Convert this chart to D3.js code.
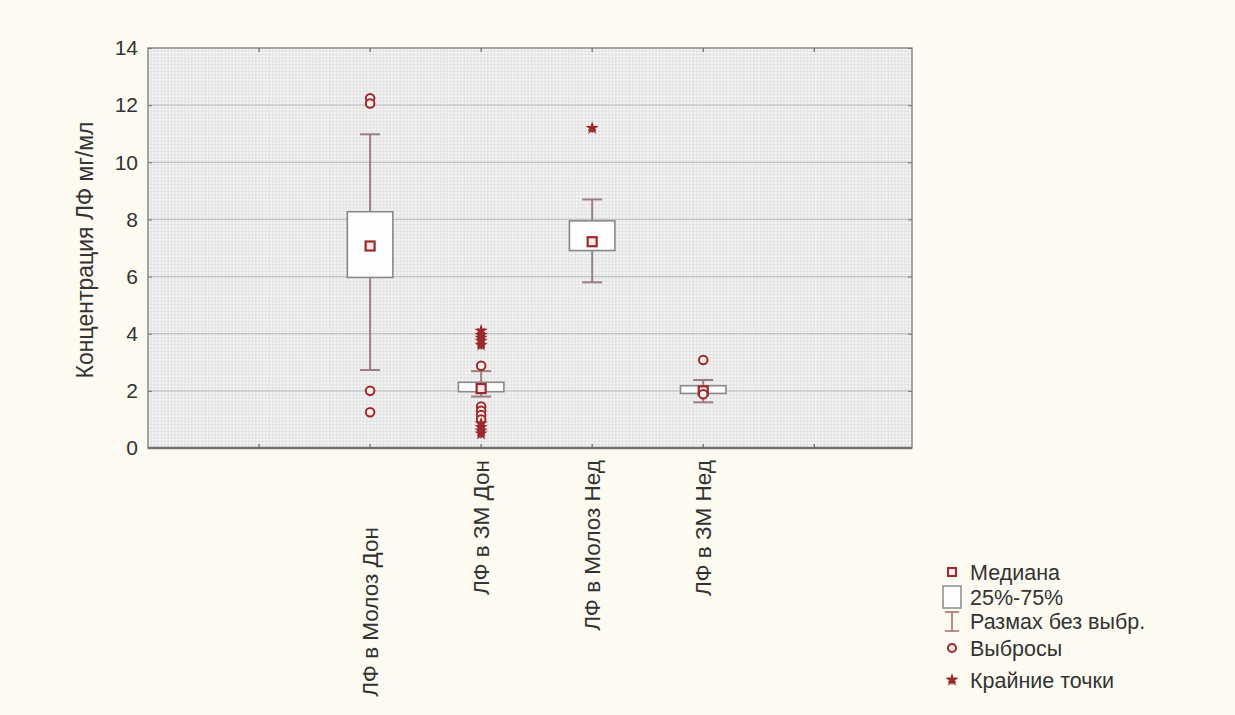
<!DOCTYPE html>
<html>
<head>
<meta charset="utf-8">
<script src="https://cdn.jsdelivr.net/npm/d3@7"></script>
<style>
  body { margin: 0; background: #fdfbf1; }
  text { font-family: "Liberation Sans", Arial, sans-serif; fill: #333; }
</style>
</head>
<body>
  <script>
    // data
    const categories = ["ЛФ в Молоз Дон", "ЛФ в ЗМ Дон", "ЛФ в Молоз Нед", "ЛФ в ЗМ Нед"];
    const q1       = [5.97, 1.97, 6.91, 1.91];
    const q3       = [8.27, 2.30, 7.95, 2.18];
    const medians  = [7.07, 2.08, 7.22, 2.00];
    const whiskLow = [2.73, 1.80, 5.80, 1.60];
    const whiskHigh= [10.98, 2.69, 8.70, 2.38];
    const outliers = [
      [12.24, 12.06, 2.0, 1.25],
      [2.88, 1.45, 1.3, 1.15, 1.0],
      [],
      [3.08, 1.88]
    ];
    const extremes = [
      [],
      [4.1, 3.95, 3.85, 3.75, 3.6, 0.85, 0.72, 0.6, 0.5],
      [11.19],
      []
    ];
    const yTicks = [0, 2, 4, 6, 8, 10, 12, 14];
    const legendLabels = ["Медиана", "25%-75%", "Размах без выбр.", "Выбросы", "Крайние точки"];

    const W = 1235, H = 715;
    const pL = 148, pR = 912, pT = 48, pB = 448;
    const red = "#9b2a2c";

    const svg = d3.select("body").append("svg")
      .attr("width", W).attr("height", H);

    const x = d3.scaleLinear().domain([-2, 4.88]).range([pL, pR]);
    const y = d3.scaleLinear().domain([0, 14]).range([pB, pT]);

    // plot background with fine mesh
    svg.append("rect")
      .attr("x", pL).attr("y", pT)
      .attr("width", pR - pL).attr("height", pB - pT)
      .attr("fill", "#f3f3f3");

    const mesh = svg.append("g").attr("stroke", "#dadada").attr("stroke-width", 0.6);
    mesh.selectAll(".hy").data(d3.range(0, 14, 14 / 120)).enter().append("line")
      .attr("x1", pL).attr("x2", pR)
      .attr("y1", d => y(d)).attr("y2", d => y(d));
    mesh.selectAll(".vx").data(d3.range(-2, 4.88, 1 / 33)).enter().append("line")
      .attr("y1", pT).attr("y2", pB)
      .attr("x1", d => x(d)).attr("x2", d => x(d));

    // major grid
    svg.append("g").selectAll("line").data(yTicks.slice(1, -1)).enter().append("line")
      .attr("x1", pL).attr("x2", pR)
      .attr("y1", d => y(d)).attr("y2", d => y(d))
      .attr("stroke", "#c4c4c4").attr("stroke-width", 1.2);

    // frame
    svg.append("rect")
      .attr("x", pL).attr("y", pT)
      .attr("width", pR - pL).attr("height", pB - pT)
      .attr("fill", "none").attr("stroke", "#8c8c8c").attr("stroke-width", 1.5);
    svg.append("line")
      .attr("x1", pL).attr("x2", pR).attr("y1", pB).attr("y2", pB)
      .attr("stroke", "#707070").attr("stroke-width", 2.5);

    // y axis
    const yAxis = svg.append("g")
      .attr("transform", `translate(${pL},0)`)
      .call(d3.axisLeft(y).tickValues(yTicks).tickSize(-4).tickPadding(10));
    yAxis.select(".domain").remove();
    yAxis.selectAll(".tick line").attr("stroke", "#777");
    yAxis.selectAll("text").attr("font-size", 21).attr("fill", "#333");

    const yRight = svg.append("g")
      .attr("transform", `translate(${pR},0)`)
      .call(d3.axisRight(y).tickValues(yTicks).tickSize(-4).tickFormat(""));
    yRight.select(".domain").remove();
    yRight.selectAll(".tick line").attr("stroke", "#777");

    // x ticks (top and bottom), inside
    const xTicks = d3.range(-1, 5);
    ["bottom", "top"].forEach(side => {
      const y0 = side === "bottom" ? pB : pT;
      const dir = side === "bottom" ? -4 : 4;
      svg.append("g").selectAll("line").data(xTicks).enter().append("line")
        .attr("x1", d => x(d)).attr("x2", d => x(d))
        .attr("y1", y0).attr("y2", y0 + dir)
        .attr("stroke", "#666").attr("stroke-width", 1.2);
    });

    // y title
    svg.append("text")
      .attr("transform", `translate(85,${(pT + pB) / 2 + 2}) rotate(-90)`)
      .attr("text-anchor", "middle")
      .attr("dy", "0.35em")
      .attr("font-size", 23)
      .text("Концентрация ЛФ мг/мл");

    // x labels, rotated
    svg.append("g").selectAll("text").data(categories).enter().append("text")
      .attr("transform", (d, i) => `translate(${x(i)},${i === 0 ? 527 : 460}) rotate(-90)`)
      .attr("text-anchor", "end")
      .attr("dy", "0.35em")
      .attr("font-size", 22.5)
      .text(d => d);

    // boxes
    const bw = 0.41, cw = 0.18;
    const g = svg.append("g");
    categories.forEach((c, i) => {
      const cx = x(i);
      const hb = (x(bw) - x(0)) / 2, hc = (x(cw) - x(0)) / 2;
      // whiskers
      g.append("line").attr("x1", cx).attr("x2", cx)
        .attr("y1", y(whiskLow[i])).attr("y2", y(whiskHigh[i]))
        .attr("stroke", "#9a7e80").attr("stroke-width", 2);
      [whiskLow[i], whiskHigh[i]].forEach(v => {
        g.append("line").attr("x1", cx - hc).attr("x2", cx + hc)
          .attr("y1", y(v)).attr("y2", y(v))
          .attr("stroke", "#9a7e80").attr("stroke-width", 2);
      });
      // box
      g.append("rect")
        .attr("x", cx - hb).attr("width", 2 * hb)
        .attr("y", y(q3[i])).attr("height", y(q1[i]) - y(q3[i]))
        .attr("fill", "#fdfdfd").attr("stroke", "#8a8a8a").attr("stroke-width", 1.6);
      // median
      g.append("rect")
        .attr("x", cx - 4.5).attr("y", y(medians[i]) - 4.5)
        .attr("width", 9).attr("height", 9)
        .attr("fill", "#fbe9ea").attr("stroke", red).attr("stroke-width", 2.2);
      // outliers
      g.selectAll(null).data(outliers[i]).enter().append("circle")
        .attr("cx", cx).attr("cy", d => y(d)).attr("r", 4.3)
        .attr("fill", "#fbecec").attr("stroke", red).attr("stroke-width", 2);
      // extremes
      g.selectAll(null).data(extremes[i]).enter().append("path")
        .attr("transform", d => `translate(${cx},${y(d)})`)
        .attr("d", d3.symbol(d3.symbolStar, 55)())
        .attr("fill", red);
      g.selectAll(null).data(extremes[i]).enter().append("path")
        .attr("transform", d => `translate(${cx},${y(d)})`)
        .attr("d", d3.symbol(d3.symbolAsterisk, 55)())
        .attr("stroke", red).attr("stroke-width", 1.5);
    });

    // legend
    const lx = 952, ly = [572, 597, 621, 648, 680];
    const lg = svg.append("g");
    lg.append("rect").attr("x", lx - 4).attr("y", ly[0] - 4).attr("width", 8).attr("height", 8)
      .attr("fill", "#fbe9ea").attr("stroke", red).attr("stroke-width", 2);
    lg.append("rect").attr("x", lx - 9).attr("y", ly[1] - 11).attr("width", 18).attr("height", 22)
      .attr("fill", "#fdfdfd").attr("stroke", "#8a8a8a").attr("stroke-width", 1.5);
    lg.append("line").attr("x1", lx).attr("x2", lx).attr("y1", ly[2] - 9).attr("y2", ly[2] + 10)
      .attr("stroke", "#a06a6a").attr("stroke-width", 1.5);
    [ly[2] - 9, ly[2] + 10].forEach(v => lg.append("line")
      .attr("x1", lx - 7).attr("x2", lx + 7).attr("y1", v).attr("y2", v)
      .attr("stroke", "#a06a6a").attr("stroke-width", 1.5));
    lg.append("circle").attr("cx", lx).attr("cy", ly[3]).attr("r", 4)
      .attr("fill", "#fbecec").attr("stroke", red).attr("stroke-width", 2);
    lg.append("path").attr("transform", `translate(${lx},${ly[4]})`)
      .attr("d", d3.symbol(d3.symbolStar, 55)()).attr("fill", red);
    lg.append("path").attr("transform", `translate(${lx},${ly[4]})`)
      .attr("d", d3.symbol(d3.symbolAsterisk, 55)()).attr("stroke", red).attr("stroke-width", 1.5);
    lg.selectAll("text").data(legendLabels).enter().append("text")
      .attr("x", 970).attr("y", (d, i) => ly[i])
      .attr("dy", "0.35em")
      .attr("font-size", 21.5)
      .text(d => d);
  </script>
</body>
</html>
